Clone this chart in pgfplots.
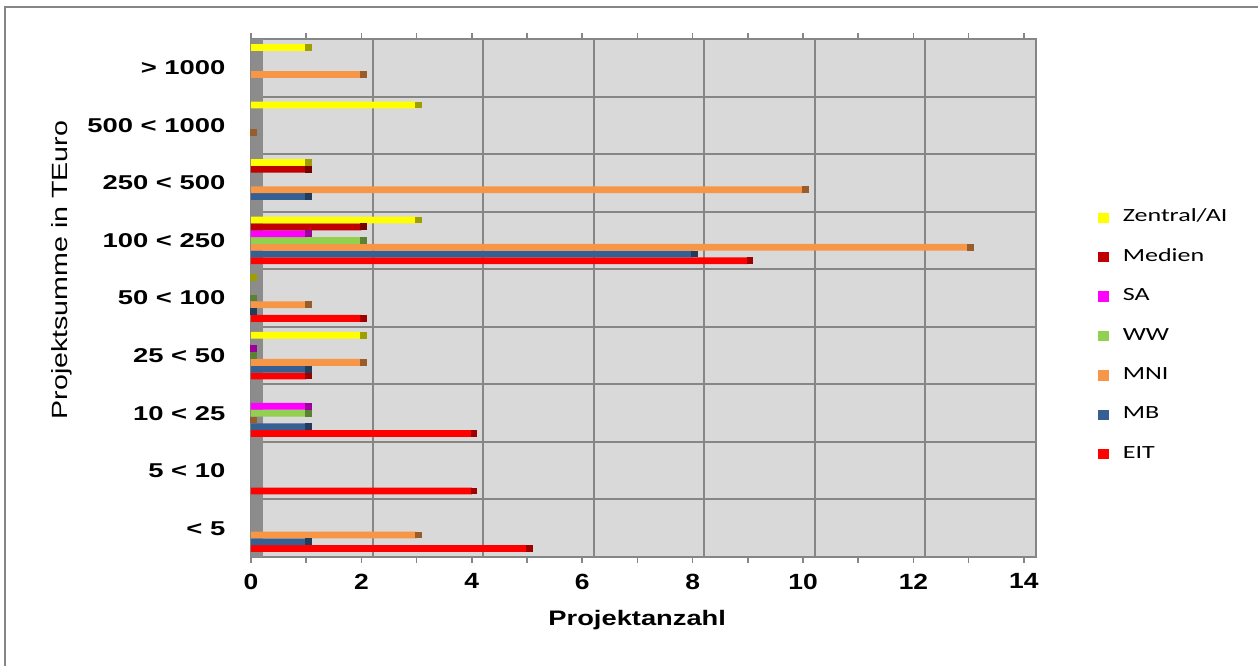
\documentclass[border=0pt]{standalone}
\usepackage{fontspec}
\setmainfont{Liberation Sans}
\newfontfamily\ytfont[FakeStretch=1.37]{Liberation Sans}
\newfontfamily\xtfont[FakeStretch=1.2]{Liberation Sans}
\newfontfamily\labfont[FakeStretch=1.3]{Liberation Sans}
\newfontfamily\legfont[FakeStretch=1.4]{Carlito}
\usepackage{pgfplots}
\pgfplotsset{compat=1.18}

\definecolor{cEIT}{RGB}{255,0,0}
\definecolor{cMB}{RGB}{55,96,146}
\definecolor{cMNI}{RGB}{247,150,70}
\definecolor{cWW}{RGB}{146,208,80}
\definecolor{cSA}{RGB}{255,0,255}
\definecolor{cMed}{RGB}{192,0,0}
\definecolor{cZen}{RGB}{255,255,0}
\definecolor{bgfill}{RGB}{217,217,217}
\definecolor{wallfill}{RGB}{140,140,140}
\definecolor{lngray}{RGB}{134,134,134}

% one bar series: flat face plus a darker end cap for the depth
% (0.118 axis units of bar shift = 3.396pt at this axis height)
\pgfplotsset{
  bars/.style 2 args={
    xbar, bar width=0.118, bar shift=#2*0.118,
    fill=#1, draw=none,
    nodes near coords={\null},
    nodes near coords align={horizontal},
    every node near coord/.style={anchor=west, inner sep=0pt, outer sep=0pt,
      minimum width=3.4pt, minimum height=3.4pt, fill=#1!62!black,
      yshift=#2*3.396pt, xshift=-0.6pt},
  },
}

\begin{document}
\begin{tikzpicture}
\useasboundingbox (0,0) rectangle (629pt,333pt);
\draw[lngray, line width=1pt] (2.5pt,0pt) -- (2.5pt,329.5pt) -- (629pt,329.5pt);

\begin{axis}[
  at={(125.5pt,54.5pt)}, anchor=south west,
  width=392.5pt, height=259pt, scale only axis,
  xmin=0, xmax=14.22, ymin=-0.5, ymax=8.5,
  axis background/.style={fill=bgfill},
  axis line style={lngray, line width=1pt},
  tick align=outside,
  major tick length=2.8pt, minor tick length=4.5pt,
  tick style={lngray, line width=0.8pt},
  xtick={0,1,...,14},
  xticklabels={0,,2,,4,,6,,8,,10,,12,,14},
  xticklabel style={font=\xtfont\bfseries\fontsize{11}{13}\selectfont, yshift=-2pt},
  /pgf/number format/assume math mode=true,
  extra x ticks={2.21,4.21,6.21,8.21,10.21,12.21},
  extra x tick labels={},
  extra x tick style={grid=major, tick style={draw=none}},
  major grid style={lngray, line width=1pt},
  ytick={0,...,8},
  yticklabels={{< 5},{5 < 10},{10 < 25\ },{25 < 50},{50 < 100},{100 < 250},{250 < 500},{500 < 1000},{> 1000}},
  y tick style={draw=none},
  minor ytick={-0.5,0.5,...,8.5},
  yminorgrids=true,
  minor grid style={lngray, line width=1pt},
  yticklabel style={font=\ytfont\bfseries\fontsize{10}{12}\selectfont, anchor=east, xshift=-6.5pt},
  xlabel={Projektanzahl},
  xlabel style={font=\labfont\bfseries\fontsize{10.5}{12}\selectfont,
    at={(axis description cs:0.492,-0.122)}, anchor=center},
  ylabel={Projektsumme in TEuro},
  ylabel style={font=\labfont\fontsize{11}{13}\selectfont,
    at={(axis description cs:-0.241,0.554)}, anchor=center},
  reverse legend,
  legend image code/.code={\fill[#1] (0pt,-2.6pt) rectangle (5.2pt,2.6pt);},
  legend style={draw=none, fill=none, inner sep=0pt,
    at={(axis description cs:1.079,0.4266)}, anchor=west,
    font=\legfont\fontsize{9.3}{11}\selectfont,
    row sep=10.7pt, column sep=7pt,
    nodes={inner sep=0pt, text height=6.5pt, text depth=2.5pt}},
  legend cell align=left,
  clip=false,
]
% left side wall
\fill[wallfill] (axis cs:0,-0.5) rectangle (axis cs:0.21,8.5);

% categories: 0 <5, 1 5<10, 2 10<25, 3 25<50, 4 50<100,
%             5 100<250, 6 250<500, 7 500<1000, 8 >1000
\addplot[bars={cEIT}{-3}] coordinates {(5,0) (4,1) (4,2) (1,3) (2,4) (9,5)};
\addlegendentry{EIT}
\addplot[bars={cMB}{-2}] coordinates {(1,0) (1,2) (1,3) (0,4) (8,5) (1,6)};
\addlegendentry{MB}
\addplot[bars={cMNI}{-1}] coordinates {(3,0) (0,2) (2,3) (1,4) (13,5) (10,6) (0,7) (2,8)};
\addlegendentry{MNI}
\addplot[bars={cWW}{0}] coordinates {(1,2) (0,3) (0,4) (2,5)};
\addlegendentry{WW}
\addplot[bars={cSA}{1}] coordinates {(1,2) (0,3) (1,5)};
\addlegendentry{SA}
\addplot[bars={cMed}{2}] coordinates {(2,5) (1,6)};
\addlegendentry{Medien}
\addplot[bars={cZen}{3}] coordinates {(2,3) (0,4) (3,5) (1,6) (3,7) (1,8)};
\addlegendentry{Zentral/AI}
\end{axis}
\end{tikzpicture}
\end{document}
